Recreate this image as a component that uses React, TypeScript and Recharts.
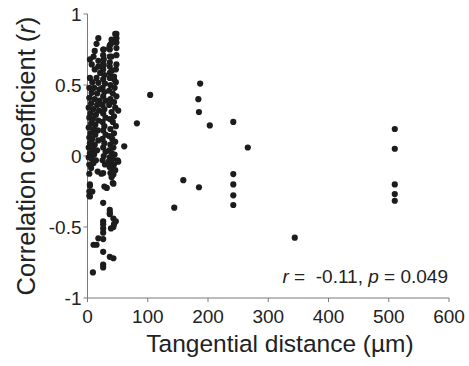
import React from "react";
import { ScatterChart, Scatter, XAxis, YAxis, Customized } from "recharts";

const xTicks = [0, 100, 200, 300, 400, 500, 600];
const yTicks = [-1, -0.5, 0, 0.5, 1];

// dense cluster, column near 0-22 µm
const clusterA: [number, number][] = [
  [18, 0.83], [15, 0.79], [12, 0.74], [10, 0.7], [4, 0.68], [18, 0.67], [7, 0.645], [18, 0.63],
  [12, 0.61], [21, 0.585], [4, 0.55], [15, 0.55], [8, 0.52], [18, 0.515], [3, 0.48], [11, 0.48],
  [20, 0.47], [7, 0.445], [16, 0.44], [3, 0.41], [12, 0.4], [20, 0.39], [6, 0.37], [16, 0.36],
  [2, 0.34], [10, 0.33], [19, 0.32], [5, 0.3], [14, 0.29], [3, 0.27], [9, 0.26], [18, 0.25],
  [6, 0.23], [13, 0.22], [2, 0.2], [10, 0.19], [17, 0.18], [5, 0.16], [13, 0.15], [3, 0.13],
  [8, 0.12], [18, 0.11], [4, 0.09], [12, 0.08], [2, 0.06], [9, 0.05], [16, 0.04], [4, 0.02],
  [11, 0.01], [2, -0.01], [7, -0.02], [14, -0.03], [10, -0.05], [3, -0.06], [6, -0.085], [17, -0.11],
  [3, -0.125], [23, -0.125], [4, -0.2], [4, -0.21], [3, -0.25], [8, -0.25], [4, -0.285], [3, -0.28],
  [18, -0.58], [10, -0.625], [15, -0.625], [9, -0.82],
];

// dense cluster, column near 25-32 µm
const clusterB: [number, number][] = [
  [26, 0.75], [27, 0.75], [26, 0.71], [27, 0.68], [26, 0.645], [27, 0.64], [26, 0.61], [28, 0.57],
  [26, 0.54], [29, 0.51], [25, 0.48], [28, 0.45], [26, 0.42], [30, 0.39], [25, 0.36], [28, 0.33],
  [26, 0.3], [30, 0.27], [25, 0.24], [28, 0.21], [26, 0.18], [30, 0.15], [25, 0.12], [28, 0.09],
  [26, 0.06], [30, 0.03], [27, 0.0], [25, -0.03], [29, -0.06], [26, -0.12], [28, -0.215], [32, -0.225],
  [26, -0.33], [26, -0.46], [26, -0.48], [26, -0.51], [26, -0.54], [26, -0.585], [26, -0.675],
  [26, -0.765], [26, -0.785],
];

// dense cluster, column near 35-51 µm
const clusterC: [number, number][] = [
  [48, 0.86], [46, 0.86], [48, 0.83], [40, 0.82], [48, 0.8], [39, 0.79], [37, 0.78], [48, 0.76],
  [36, 0.76], [37, 0.75], [48, 0.71], [37, 0.7], [40, 0.7], [37, 0.66], [48, 0.645], [37, 0.63],
  [47, 0.61], [40, 0.6], [37, 0.585], [44, 0.56], [37, 0.55], [44, 0.54], [47, 0.52], [38, 0.5],
  [45, 0.48], [36, 0.46], [42, 0.44], [48, 0.42], [38, 0.4], [44, 0.38], [36, 0.36], [46, 0.34],
  [51, 0.32], [40, 0.31], [44, 0.28], [37, 0.26], [42, 0.24], [47, 0.21], [38, 0.19], [44, 0.16],
  [36, 0.14], [41, 0.12], [46, 0.1], [38, 0.08], [43, 0.06], [36, 0.04], [40, 0.02], [45, 0.01],
  [37, -0.01], [42, -0.02], [50, -0.03], [35, -0.04], [51, -0.04], [39, -0.05], [44, -0.06],
  [37, -0.08], [41, -0.09], [46, -0.1], [38, -0.12], [43, -0.13], [40, -0.15], [43, -0.195],
  [42, -0.19], [37, -0.38], [37, -0.4], [37, -0.41], [43, -0.44], [44, -0.48], [47, -0.46],
  [43, -0.5], [39, -0.51], [37, -0.71], [43, -0.72],
];

// sparse points at larger distances
const sparse: [number, number][] = [
  [61, 0.068], [82, 0.23], [104, 0.43], [144, -0.364], [159, -0.17], [185, -0.22], [187, 0.51],
  [184, 0.4], [185, 0.31], [203, 0.215], [242, 0.24], [266, 0.06], [242, -0.127], [242, -0.2],
  [242, -0.277], [242, -0.345], [344, -0.575], [510, 0.19], [510, 0.051], [510, -0.2],
  [510, -0.268], [510, -0.315],
];

const data = [...clusterA, ...clusterB, ...clusterC, ...sparse].map(([x, y]) => ({ x, y }));

const FONT = "'Liberation Sans', Arial, Helvetica, sans-serif";
const AXIS = "#7a7a7a";
const INK = "#222";

const Dot = (props: any) => <circle cx={props.cx} cy={props.cy} r={3.1} fill="#1c1c1c" />;

const Titles = () => (
  <g fontFamily={FONT} fill={INK}>
    <text x={280} y={352} fontSize={24.5} textAnchor="middle">
      Tangential distance (µm)
    </text>
    <text x={35} y={156} fontSize={25.5} textAnchor="middle" transform="rotate(-90 35 156)">
      Correlation coefficient (<tspan fontStyle="italic">r</tspan>)
    </text>
    <text x={448} y={283} fontSize={19} textAnchor="end" style={{ whiteSpace: "pre" }}>
      <tspan fontStyle="italic">r</tspan>{" =  -0.11, "}<tspan fontStyle="italic">p</tspan>{" = 0.049"}
    </text>
  </g>
);

export default function App() {
  return (
    <div style={{ position: "absolute", left: 0, top: 0, background: "#fff" }}>
      <ScatterChart width={469} height={366} margin={{ top: 14, right: 20, left: 0, bottom: 0 }}>
        <XAxis
          type="number"
          dataKey="x"
          domain={[0, 600]}
          ticks={xTicks}
          height={68}
          tickSize={4}
          tickMargin={8}
          stroke={AXIS}
          tick={{ fill: INK, fontSize: 19, fontFamily: FONT }}
          tickLine={{ stroke: AXIS }}
          interval={0}
        />
        <YAxis
          type="number"
          dataKey="y"
          domain={[-1, 1]}
          ticks={yTicks}
          width={87.5}
          tickSize={4}
          tickMargin={2}
          stroke={AXIS}
          tick={{ fill: INK, fontSize: 19, fontFamily: FONT }}
          tickLine={{ stroke: AXIS }}
          interval={0}
        />
        <Scatter data={data} shape={Dot} isAnimationActive={false} />
        <Customized component={Titles} />
      </ScatterChart>
    </div>
  );
}
